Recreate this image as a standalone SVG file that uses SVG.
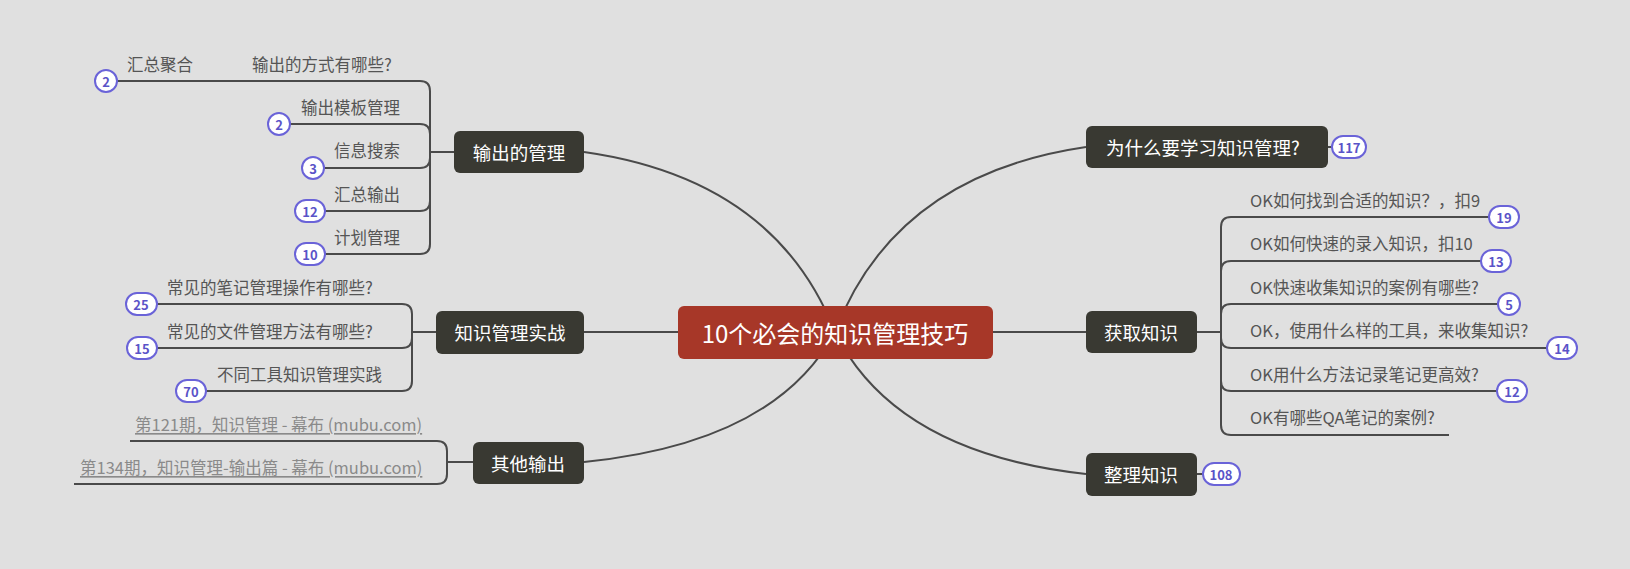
<svg xmlns="http://www.w3.org/2000/svg" width="1630" height="569" viewBox="0 0 1630 569">
<style>
.bg{fill:#e0e0e0}
.ln{fill:none;stroke:#4a4a4a;stroke-width:2}
.node rect{fill:#393932}
.node text{fill:#ffffff;font-family:"Noto Sans CJK SC",sans-serif;font-size:18.5px;text-anchor:middle;dominant-baseline:central}
.root rect{fill:#a73728}
.root text{fill:#ffffff;font-family:"Noto Sans CJK SC",sans-serif;font-size:24px;text-anchor:middle;dominant-baseline:central}
.sub{fill:#555555;font-family:"Noto Sans CJK SC",sans-serif;font-size:16.5px;dominant-baseline:central}
.link{fill:#8a8a8a;font-family:"Noto Sans CJK SC",sans-serif;font-size:16.5px;dominant-baseline:central;text-decoration:underline}
.badge rect,.badge circle{fill:#ffffff;stroke:#6a63d8;stroke-width:2}
.badge text{fill:#5a53c8;font-family:"Noto Sans CJK SC",sans-serif;font-size:13px;font-weight:bold;text-anchor:middle;dominant-baseline:central}
</style>
<rect class="bg" x="0" y="0" width="1630" height="569"/>
<g id="connectors">
  <path class="ln" d="M835,332 Q775,179 584,152"/>
  <path class="ln" d="M835,332 Q895,175 1086,147"/>
  <path class="ln" d="M835,332 Q775,443 584,462"/>
  <path class="ln" d="M835,332 Q895,453 1086,474"/>
  <path class="ln" d="M584,332 H1086"/>
  <path class="ln" d="M454,152 H430"/>
  <path class="ln" d="M430,152 V91 Q430,81 420,81 H106"/>
  <path class="ln" d="M430,152 V134 Q430,124 420,124 H279"/>
  <path class="ln" d="M430,152 V158 Q430,168 420,168 H313"/>
  <path class="ln" d="M430,152 V201 Q430,211 420,211 H310"/>
  <path class="ln" d="M430,152 V244 Q430,254 420,254 H310"/>
  <path class="ln" d="M436,332 H412"/>
  <path class="ln" d="M412,332 V314 Q412,304 402,304 H141"/>
  <path class="ln" d="M412,332 V338 Q412,348 402,348 H142"/>
  <path class="ln" d="M412,332 V381 Q412,391 402,391 H191"/>
  <path class="ln" d="M473,462 H447"/>
  <path class="ln" d="M447,462 V451 Q447,441 437,441 H130"/>
  <path class="ln" d="M447,462 V474 Q447,484 437,484 H74"/>
  <path class="ln" d="M1197,332 H1221"/>
  <path class="ln" d="M1221,332 V227 Q1221,217 1231,217 H1504"/>
  <path class="ln" d="M1221,332 V271 Q1221,261 1231,261 H1496"/>
  <path class="ln" d="M1221,332 V314 Q1221,304 1231,304 H1509"/>
  <path class="ln" d="M1221,332 V338 Q1221,348 1231,348 H1562"/>
  <path class="ln" d="M1221,332 V381 Q1221,391 1231,391 H1512"/>
  <path class="ln" d="M1221,332 V425 Q1221,435 1231,435 H1449"/>
  <path class="ln" d="M1328,147 H1340"/>
  <path class="ln" d="M1197,474 H1210"/>
</g>
<g id="root" class="root">
  <rect x="678" y="306" width="315" height="53" rx="6"/>
  <text x="835" y="332">10个必会的知识管理技巧</text>
</g>
<g id="n-output" class="node">
  <rect x="454" y="131" width="130" height="42" rx="6"/>
  <text x="519" y="152">输出的管理</text>
</g>
<g id="n-practice" class="node">
  <rect x="436" y="311" width="148" height="43" rx="6"/>
  <text x="510" y="332">知识管理实战</text>
</g>
<g id="n-other" class="node">
  <rect x="473" y="442" width="111" height="42" rx="6"/>
  <text x="528" y="463">其他输出</text>
</g>
<g id="n-why" class="node">
  <rect x="1086" y="126" width="242" height="42" rx="6"/>
  <text x="1203" y="147">为什么要学习知识管理?</text>
</g>
<g id="n-acquire" class="node">
  <rect x="1086" y="311" width="111" height="42" rx="6"/>
  <text x="1141" y="332">获取知识</text>
</g>
<g id="n-organize" class="node">
  <rect x="1086" y="453" width="111" height="43" rx="6"/>
  <text x="1141" y="474">整理知识</text>
</g>
<g id="c-ways"><text class="sub" x="252" y="64">输出的方式有哪些?</text></g>
<g id="c-agg"><text class="sub" x="127" y="64">汇总聚合</text>
  <g class="badge"><circle cx="106" cy="81" r="11"/><text x="106" y="81">2</text></g></g>
<g id="c-template"><text class="sub" x="301" y="107">输出模板管理</text>
  <g class="badge"><circle cx="279" cy="124" r="11"/><text x="279" y="124">2</text></g></g>
<g id="c-search"><text class="sub" x="334" y="150">信息搜索</text>
  <g class="badge"><circle cx="313" cy="168" r="11"/><text x="313" y="168">3</text></g></g>
<g id="c-sum"><text class="sub" x="334" y="194">汇总输出</text>
  <g class="badge"><rect x="295" y="200" width="30" height="22" rx="11"/><text x="310" y="211">12</text></g></g>
<g id="c-plan"><text class="sub" x="334" y="237">计划管理</text>
  <g class="badge"><rect x="295" y="243" width="30" height="22" rx="11"/><text x="310" y="254">10</text></g></g>
<g id="c-note"><text class="sub" x="167" y="287">常见的笔记管理操作有哪些?</text>
  <g class="badge"><rect x="126" y="293" width="31" height="22" rx="11"/><text x="141" y="304">25</text></g></g>
<g id="c-file"><text class="sub" x="167" y="331">常见的文件管理方法有哪些?</text>
  <g class="badge"><rect x="127" y="337" width="30" height="22" rx="11"/><text x="142" y="348">15</text></g></g>
<g id="c-tools"><text class="sub" x="217" y="374">不同工具知识管理实践</text>
  <g class="badge"><rect x="176" y="380" width="30" height="22" rx="11"/><text x="191" y="391">70</text></g></g>
<g id="c-link1"><text class="link" x="135" y="424">第121期，知识管理 - 幕布 (mubu.com)</text></g>
<g id="c-link2"><text class="link" x="80" y="467">第134期，知识管理-输出篇 - 幕布 (mubu.com)</text></g>
<g id="c-find"><text class="sub" x="1250" y="200">OK如何找到合适的知识？，扣9</text>
  <g class="badge"><rect x="1489" y="206" width="30" height="22" rx="11"/><text x="1504" y="217">19</text></g></g>
<g id="c-input"><text class="sub" x="1250" y="243">OK如何快速的录入知识，扣10</text>
  <g class="badge"><rect x="1481" y="250" width="30" height="22" rx="11"/><text x="1496" y="261">13</text></g></g>
<g id="c-cases"><text class="sub" x="1250" y="287">OK快速收集知识的案例有哪些?</text>
  <g class="badge"><circle cx="1509" cy="304" r="11"/><text x="1509" y="304">5</text></g></g>
<g id="c-toolq"><text class="sub" x="1250" y="330">OK，使用什么样的工具，来收集知识?</text>
  <g class="badge"><rect x="1547" y="337" width="30" height="22" rx="11"/><text x="1562" y="348">14</text></g></g>
<g id="c-method"><text class="sub" x="1250" y="374">OK用什么方法记录笔记更高效?</text>
  <g class="badge"><rect x="1497" y="380" width="30" height="22" rx="11"/><text x="1512" y="391">12</text></g></g>
<g id="c-qa"><text class="sub" x="1250" y="417">OK有哪些QA笔记的案例?</text></g>
<g id="b-why" class="badge"><rect x="1332" y="136" width="34" height="22" rx="11"/><text x="1349" y="147">117</text></g>
<g id="b-organize" class="badge"><rect x="1203" y="463" width="37" height="22" rx="11"/><text x="1221" y="474">108</text></g>
</svg>
